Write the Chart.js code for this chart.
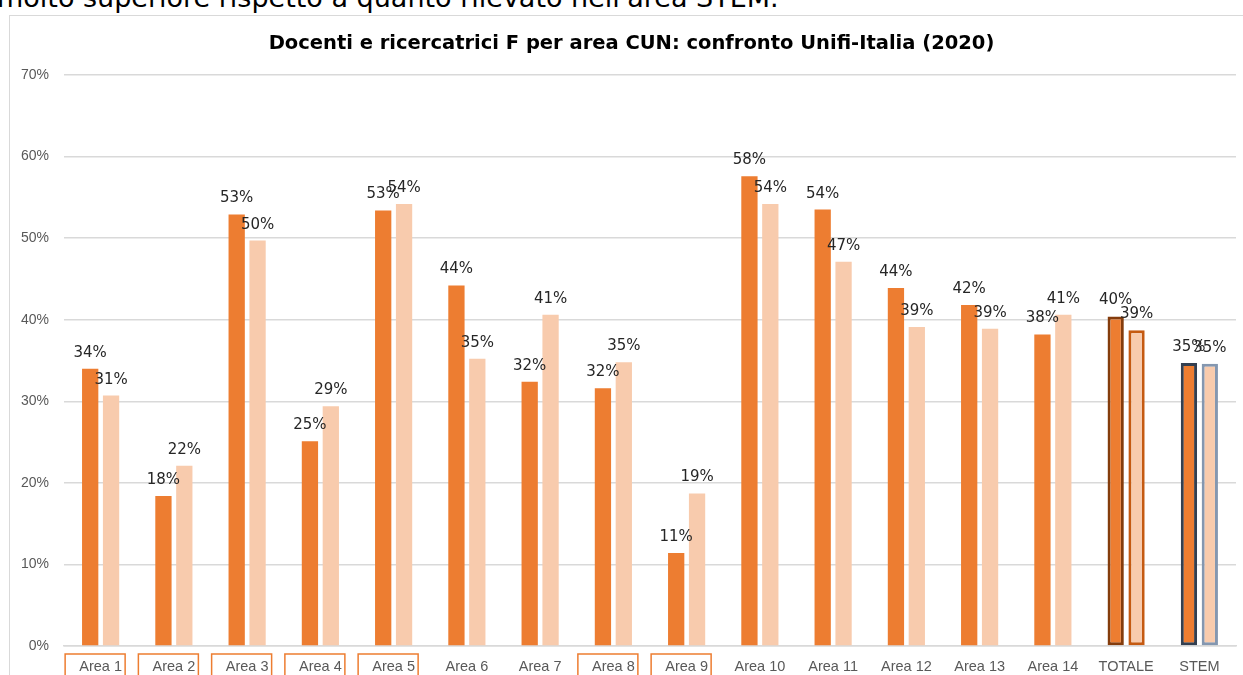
<!DOCTYPE html>
<html lang="it">
<head>
<meta charset="utf-8">
<title>Docenti e ricercatrici F per area CUN</title>
<script src="https://cdn.jsdelivr.net/npm/chart.js@4/dist/chart.umd.min.js"></script>
<style>
    html, body { margin: 0; padding: 0; background: #fff; overflow: hidden; }
    body { width: 1243px; height: 675px; position: relative; }
    .lead {
        position: absolute; left: -3px; top: -16px;
        font: 27px/27px "DejaVu Sans", Verdana, sans-serif;
        color: #000; white-space: nowrap;
    }
    .frame {
        position: absolute; left: 9px; top: 15px;
        width: 1245px; height: 680px;
        border: 1px solid #d9d9d9; box-sizing: border-box;
        background: #fff;
    }
</style>
</head>
<body>
<div class="lead">molto superiore rispetto a quanto rilevato nell'area STEM.</div>
<div class="frame"><canvas id="chart"></canvas></div>

<script>
// ====== Data ======
const chartTitle = 'Docenti e ricercatrici F per area CUN: confronto Unifi-Italia (2020)';
const categories = ['Area 1', 'Area 2', 'Area 3', 'Area 4', 'Area 5', 'Area 6', 'Area 7', 'Area 8',
    'Area 9', 'Area 10', 'Area 11', 'Area 12', 'Area 13', 'Area 14', 'TOTALE', 'STEM'];
const unifiValues = [34.0, 18.4, 52.9, 25.1, 53.4, 44.2, 32.4, 31.6, 11.4, 57.6, 53.5, 43.9, 41.8, 38.2, 40.4, 34.7];
const italiaValues = [30.7, 22.1, 49.7, 29.4, 54.2, 35.2, 40.6, 34.8, 18.7, 54.2, 47.1, 39.1, 38.9, 40.6, 38.7, 34.6];
const yTicks = [0, 10, 20, 30, 40, 50, 60, 70];
// categories whose label gets an orange box
const boxedCategories = ['Area 1', 'Area 2', 'Area 3', 'Area 4', 'Area 5', 'Area 8', 'Area 9'];

// ====== Styles ======
const DARK = '#ED7D31';
const LIGHT = '#F8CBAD';
const AXIS_FONT = '"Liberation Sans", Arial, sans-serif';
const lastIdx = categories.length - 1;

function perBar(def, totale, stem) {
    return categories.map((c, i) => i === lastIdx - 1 ? totale : (i === lastIdx ? stem : def));
}

// ====== Plugins ======
// title centred on the whole frame (the built-in one centres on the padded box)
const frameTitle = {
    id: 'frameTitle',
    afterDraw(chart) {
        const ctx = chart.ctx;
        ctx.save();
        ctx.font = 'bold 19.5px "DejaVu Sans", Verdana, sans-serif';
        ctx.fillStyle = '#000';
        ctx.textAlign = 'center';
        ctx.textBaseline = 'middle';
        ctx.fillText(chartTitle, chart.width / 2, 28);
        ctx.restore();
    }
};

const barLabels = {
    id: 'barLabels',
    afterDatasetsDraw(chart) {
        const ctx = chart.ctx;
        ctx.save();
        ctx.font = '15px "DejaVu Sans", Verdana, sans-serif';
        ctx.fillStyle = '#262626';
        ctx.textAlign = 'center';
        ctx.textBaseline = 'alphabetic';
        chart.data.datasets.forEach((ds, di) => {
            chart.getDatasetMeta(di).data.forEach((bar, i) => {
                ctx.fillText(Math.round(ds.data[i]) + '%', bar.x, bar.y - 12);
            });
        });
        ctx.restore();
    }
};

const labelBoxes = {
    id: 'labelBoxes',
    afterDraw(chart) {
        const ctx = chart.ctx;
        const xs = chart.scales.x;
        const top = chart.chartArea.bottom + 8;
        ctx.save();
        ctx.strokeStyle = '#ED7D31';
        ctx.lineWidth = 1.5;
        categories.forEach((c, i) => {
            if (!boxedCategories.includes(c)) return;
            const cx = xs.getPixelForValue(i);
            ctx.strokeRect(cx - 35.5, top, 60, 40);
        });
        ctx.restore();
    }
};

// ====== Chart ======
new Chart(document.getElementById('chart'), {
    type: 'bar',
    data: {
        labels: categories,
        datasets: [{
            label: 'Unifi',
            data: unifiValues,
            backgroundColor: DARK,
            borderColor: perBar('rgba(0,0,0,0)', '#843C0C', '#333F50'),
            borderWidth: perBar(0, 3, 3),
            borderSkipped: false
        }, {
            label: 'Italia',
            data: italiaValues,
            backgroundColor: LIGHT,
            borderColor: perBar('rgba(0,0,0,0)', '#C55A11', '#8497B0'),
            borderWidth: perBar(0, 3, 3),
            borderSkipped: false
        }]
    },
    options: {
        responsive: true,
        maintainAspectRatio: false,
        animation: false,
        categoryPercentage: 0.57,
        barPercentage: 0.78,
        layout: { padding: { left: 0, right: 17, top: 59, bottom: 0 } },
        plugins: {
            legend: { display: false },
            tooltip: { enabled: false },
            title: { display: false }
        },
        scales: {
            x: {
                grid: { display: false, drawTicks: false },
                border: { color: '#d9d9d9', width: 1.5 },
                ticks: {
                    color: '#595959',
                    padding: 12,
                    maxRotation: 0,
                    autoSkip: false,
                    font: { family: AXIS_FONT, size: 14.5 }
                },
                afterFit(scale) { scale.height = 48; }
            },
            y: {
                min: 0,
                max: 70,
                afterBuildTicks(scale) { scale.ticks = yTicks.map(v => ({ value: v })); },
                grid: { color: '#d9d9d9', lineWidth: 1.5, drawTicks: false },
                border: { display: false },
                ticks: {
                    color: '#595959',
                    padding: 15,
                    font: { family: AXIS_FONT, size: 14 },
                    callback: (v) => v + '%'
                },
                afterFit(scale) { scale.width = 54; }
            }
        }
    },
    plugins: [frameTitle, barLabels, labelBoxes]
});
</script>
</body>
</html>
